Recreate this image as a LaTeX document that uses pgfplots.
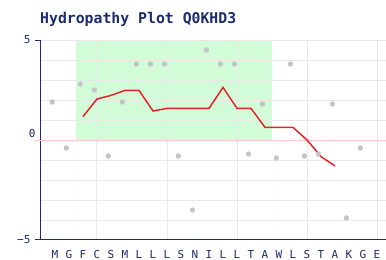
\documentclass[border=0pt]{standalone}
\usepackage{fontspec}
\setmonofont{DejaVu Sans Mono}
\usepackage{pgfplots}
\pgfplotsset{compat=1.18}
\definecolor{navy}{HTML}{1C2A6E}
\definecolor{hgreen}{HTML}{D2FCD8}
\definecolor{hred}{HTML}{E4232B}
\definecolor{hpink}{HTML}{FFC4C4}
\definecolor{hgrid}{HTML}{E8E8E8}
\definecolor{hpt}{HTML}{C4C4C4}
\begin{document}
\begin{tikzpicture}
\begin{axis}[
  set layers,
  at={(40bp,20bp)}, anchor=south west,
  scale only axis, width=346bp, height=200bp,
  xmin=-1.07, xmax=23.64, ymin=-5, ymax=5,
  clip=false,
  axis x line=bottom, axis y line=left,
  axis line style={navy, line width=1bp, -},
  xtick={0,...,23},
  xticklabels={M,G,F,C,S,M,L,L,L,S,N,I,L,L,T,A,W,L,S,T,A,K,G,E},
  minor xtick={3,8,13,18,23},
  xminorgrids=true,
  ytick={-5,5},
  yticklabels={−5,5},
  minor ytick={-4,-3,-2,-1,1,2,3,4},
  ymajorgrids=true, yminorgrids=true,
  extra y ticks={0.35},
  extra y tick labels={0},
  extra y tick style={grid=none, major tick length=0pt},
  grid style={hgrid, line width=1bp},
  minor grid style={hgrid, line width=1bp},
  tick align=outside,
  major tick length=5bp, minor tick length=0pt,
  tick style={navy, line width=1bp},
  x tick style={draw=none},
  tick label style={font=\ttfamily\fontsize{11bp}{12bp}\selectfont, text=navy},
  x tick label style={yshift=-2bp},
  y tick label style={xshift=-1bp},
  title={Hydropathy Plot Q0KHD3},
  title style={at={(0,1)}, anchor=west, yshift=15bp, inner sep=0pt,
    font=\ttfamily\bfseries\fontsize{14.8bp}{16bp}\selectfont, text=navy},
]
\addplot [on layer=axis background, fill=hgreen, draw=none]
  coordinates {(1.5,-5) (1.5,5) (15.5,5) (15.5,-5)} \closedcycle;
\addplot [hpink, line width=1bp] coordinates {(-1.43,0) (23.64,0)};
\addplot [only marks, mark=*, mark size=2.4bp, hpt] coordinates {
(-0.19,1.9) (0.81,-0.4) (1.81,2.8) (2.81,2.5) (3.81,-0.8) (4.81,1.9)
(5.81,3.8) (6.81,3.8) (7.81,3.8) (8.81,-0.8) (9.81,-3.5) (10.81,4.5)
(11.81,3.8) (12.81,3.8) (13.81,-0.7) (14.81,1.8) (15.81,-0.9) (16.81,3.8)
(17.81,-0.8) (18.81,-0.7) (19.81,1.8) (20.81,-3.9) (21.81,-0.4)
};
\addplot [hred, line width=1.5bp] coordinates {
(2,1.17) (3,2.05) (4,2.23) (5,2.48) (6,2.48) (7,1.45) (8,1.58) (9,1.58)
(10,1.58) (11,1.58) (12,2.63) (13,1.58) (14,1.58) (15,0.63) (16,0.63)
(17,0.63) (18,0.0) (19,-0.83) (20,-1.3)
};
\addplot [navy, line width=1bp] coordinates {(-1.43,-5) (23.64,-5)};
\end{axis}
\pgfresetboundingbox
\useasboundingbox (0,0) rectangle (386bp,260bp);
\end{tikzpicture}
\end{document}
